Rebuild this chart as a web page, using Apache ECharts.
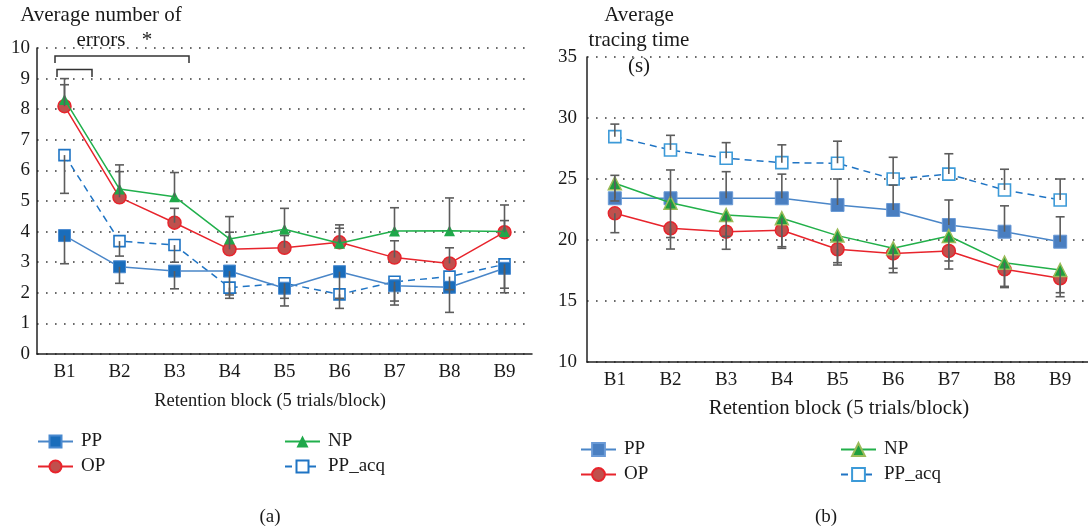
<!DOCTYPE html>
<html>
<head>
<meta charset="utf-8">
<script src="https://cdn.jsdelivr.net/npm/echarts@6/dist/echarts.min.js"></script>
<style>
html,body{margin:0;padding:0;background:#fff;}
#chart{width:1088px;height:531px;}
</style>
</head>
<body>
<div id="chart"></div>
<script>
// ---------- data ----------
const categories = ['B1','B2','B3','B4','B5','B6','B7','B8','B9'];

// (a) Average number of errors
const errPP     = [3.87, 2.85, 2.71, 2.71, 2.15, 2.69, 2.23, 2.18, 2.80];
const errOP     = [8.10, 5.12, 4.29, 3.42, 3.47, 3.65, 3.15, 2.96, 3.98];
const errNP     = [8.32, 5.39, 5.14, 3.76, 4.08, 3.62, 4.02, 4.03, 4.00];
const errPPacq  = [6.50, 3.69, 3.56, 2.17, 2.31, 1.95, 2.36, 2.53, 2.93];
// error bar end points (a)
const errPPLow    = [2.95, 2.31, 2.13, 1.93, 1.57, 1.49, 1.60, 1.36, 2.00];
const errPPacqLow = [5.25, 3.20, 3.00, 1.82, 1.82, 1.82, 1.73, 2.10, 2.15];
const errNPHigh   = [9.00, 6.18, 5.93, 4.49, 4.76, 4.22, 4.78, 5.10, 4.87];
const errOPHigh   = [8.80, 5.96, 4.76, 3.98, 3.87, 4.11, 3.70, 3.47, 4.36];

// (b) Average tracing time (s)
const timePP    = [23.42, 23.42, 23.42, 23.42, 22.87, 22.46, 21.23, 20.68, 19.86];
const timeOP    = [22.19, 20.96, 20.68, 20.80, 19.24, 18.90, 19.10, 17.60, 16.86];
const timeNP    = [24.65, 23.06, 22.05, 21.78, 20.36, 19.32, 20.33, 18.14, 17.54];
const timePPacq = [28.47, 27.38, 26.70, 26.34, 26.29, 25.00, 25.40, 24.10, 23.28];
// error bar end points (b)
const timePPacqHigh = [29.50, 28.58, 27.98, 27.80, 28.10, 26.78, 27.07, 25.80, 25.00];
const timePPHigh    = [25.30, 25.74, 25.60, 25.40, 25.00, 24.50, 23.28, 22.80, 21.90];
const timeOPLow     = [20.60, 19.26, 19.24, 19.32, 17.95, 17.32, 17.62, 16.10, 15.35];
const timeNPLow     = [23.20, 20.20, 20.30, 19.45, 18.14, 17.68, 18.28, 16.20, 15.68];

const yTicksA = [0,1,2,3,4,5,6,7,8,9,10];
const yTicksB = [10,15,20,25,30,35];

// ---------- style ----------
const FF = '"Liberation Serif", "DejaVu Serif", serif';
const TXT = '#1a1a1a';

function errSeries(xi, vals, ends) {
  return {
    type: 'custom', xAxisIndex: xi, yAxisIndex: xi, z: 6, silent: true,
    encode: { x: 0, y: [1, 2] },
    renderItem: function (params, api) {
      const x = api.value(0), v = api.value(1), e = api.value(2);
      const p1 = api.coord([x, v]), p2 = api.coord([x, e]);
      const st = { stroke: '#5c5c5c', lineWidth: 1.6 };
      return { type: 'group', children: [
        { type: 'line', shape: { x1: p1[0], y1: p1[1], x2: p2[0], y2: p2[1] }, style: st },
        { type: 'line', shape: { x1: p2[0] - 4.5, y1: p2[1], x2: p2[0] + 4.5, y2: p2[1] }, style: st }
      ]};
    },
    data: vals.map((v, i) => [i, v, ends[i]])
  };
}

function xAx(gi) {
  return {
    type: 'category', gridIndex: gi, data: categories, boundaryGap: true,
    axisLine: { lineStyle: { color: '#222', width: 1.5 } },
    axisTick: { show: false },
    axisLabel: { fontFamily: FF, fontSize: 19, color: TXT, margin: 9 }
  };
}
function yAx(gi, min, max, interval, margin) {
  return {
    type: 'value', gridIndex: gi, min: min, max: max, interval: interval,
    axisLine: { show: true, lineStyle: { color: '#222', width: 1.5 } },
    axisTick: { show: false },
    axisLabel: { fontFamily: FF, fontSize: 19, color: TXT, margin: margin },
    splitLine: { show: true, lineStyle: { color: '#3a3a3a', width: 1.6, type: [1.6, 7.4] } }
  };
}

function legendItem(name, left, top, h) {
  return {
    data: [name], left: left, top: top, orient: 'horizontal',
    itemWidth: 35, itemHeight: h, itemGap: 0, selectedMode: false,
    formatter: n => n.trim(), padding: 0,
    textStyle: { fontFamily: FF, fontSize: 19, color: TXT, padding: [0, 0, 0, 3] }
  };
}

function txt(text, x, y, size) {
  return { type: 'text', x: x, y: y, silent: true,
    style: { text: text, font: size + 'px ' + FF, fill: TXT,
      textAlign: 'center', textVerticalAlign: 'middle', align: 'center', verticalAlign: 'middle' } };
}

const chart = echarts.init(document.getElementById('chart'), null, { renderer: 'canvas' });

const option = {
  animation: false,
  backgroundColor: '#fff',
  grid: [
    { left: 37, top: 48, width: 495, height: 306 },
    { left: 587, top: 57, width: 508, height: 305 }
  ],
  xAxis: [xAx(0), xAx(1)],
  yAxis: [yAx(0, 0, 10, 1, 7), yAx(1, 10, 35, 5, 10)],
  legend: [
    legendItem('PP', 37, 432, 15),
    legendItem('OP', 37, 457, 15),
    legendItem('NP', 284, 432, 15),
    legendItem('PP_acq', 284, 457, 15),
    legendItem('PP ', 580, 440, 16),
    legendItem('OP ', 580, 465, 16),
    legendItem('NP ', 840, 440, 16),
    legendItem('PP_acq ', 840, 465, 16)
  ],
  graphic: [
    txt('Average number of', 101, 15, 21),
    txt('errors', 101, 40, 21),
    txt('*', 147, 40, 21),
    { type: 'polyline', silent: true, shape: { points: [[55, 63], [55, 56], [189, 56], [189, 63]] },
      style: { stroke: '#333', lineWidth: 1.5, fill: null } },
    { type: 'polyline', silent: true, shape: { points: [[57, 77], [57, 69.5], [92, 69.5], [92, 77]] },
      style: { stroke: '#333', lineWidth: 1.5, fill: null } },
    txt('Retention block (5 trials/block)', 270, 401, 18.5),
    txt('(a)', 270, 517, 19),
    txt('Average', 639, 15, 21),
    txt('tracing time', 639, 40, 21),
    txt('(s)', 639, 66, 21),
    txt('Retention block (5 trials/block)', 839, 409, 20.8),
    txt('(b)', 826, 517, 19)
  ],
  series: [
    // (a)
    { name: 'PP_acq', type: 'line', xAxisIndex: 0, yAxisIndex: 0, data: errPPacq, z: 2,
      symbol: 'rect', symbolSize: 11,
      itemStyle: { color: '#ffffff', borderColor: '#1f74c4', borderWidth: 1.6 },
      lineStyle: { color: '#1f74c4', width: 1.5, type: [7, 5] } },
    { name: 'PP', type: 'line', xAxisIndex: 0, yAxisIndex: 0, data: errPP, z: 3,
      symbol: 'rect', symbolSize: 12,
      itemStyle: { color: '#1a6dbb', borderColor: '#4a8ad0', borderWidth: 1 },
      lineStyle: { color: '#4a86c8', width: 1.5 } },
    { name: 'OP', type: 'line', xAxisIndex: 0, yAxisIndex: 0, data: errOP, z: 4,
      symbol: 'circle', symbolSize: 13,
      itemStyle: { color: '#c0504d', borderColor: '#e8242c', borderWidth: 1.5 },
      lineStyle: { color: '#e8242c', width: 1.5 } },
    { name: 'NP', type: 'line', xAxisIndex: 0, yAxisIndex: 0, data: errNP, z: 5,
      symbol: 'triangle', symbolSize: 11,
      itemStyle: { color: '#1fa84a', borderColor: '#1fa84a', borderWidth: 0 },
      lineStyle: { color: '#21b04c', width: 1.5 } },
    errSeries(0, errPP, errPPLow),
    errSeries(0, errPPacq, errPPacqLow),
    errSeries(0, errNP, errNPHigh),
    errSeries(0, errOP, errOPHigh),
    // (b)
    { name: 'PP_acq ', type: 'line', xAxisIndex: 1, yAxisIndex: 1, data: timePPacq, z: 2,
      symbol: 'rect', symbolSize: 12,
      itemStyle: { color: '#ffffff', borderColor: '#3c9ad8', borderWidth: 1.6 },
      lineStyle: { color: '#1f74c4', width: 1.5, type: [7, 5] } },
    { name: 'PP ', type: 'line', xAxisIndex: 1, yAxisIndex: 1, data: timePP, z: 3,
      symbol: 'rect', symbolSize: 13,
      itemStyle: { color: '#4a7fc1', borderColor: '#6a9ad6', borderWidth: 1 },
      lineStyle: { color: '#4a86c8', width: 1.5 } },
    { name: 'OP ', type: 'line', xAxisIndex: 1, yAxisIndex: 1, data: timeOP, z: 4,
      symbol: 'circle', symbolSize: 13,
      itemStyle: { color: '#c0504d', borderColor: '#e8242c', borderWidth: 1.5 },
      lineStyle: { color: '#e8242c', width: 1.5 } },
    { name: 'NP ', type: 'line', xAxisIndex: 1, yAxisIndex: 1, data: timeNP, z: 5,
      symbol: 'triangle', symbolSize: 13,
      itemStyle: { color: '#1f9f3f', borderColor: '#9bbb59', borderWidth: 1.5 },
      lineStyle: { color: '#22b04a', width: 1.5 } },
    errSeries(1, timePPacq, timePPacqHigh),
    errSeries(1, timePP, timePPHigh),
    errSeries(1, timeOP, timeOPLow),
    errSeries(1, timeNP, timeNPLow)
  ]
};
chart.setOption(option);
</script>
</body>
</html>
